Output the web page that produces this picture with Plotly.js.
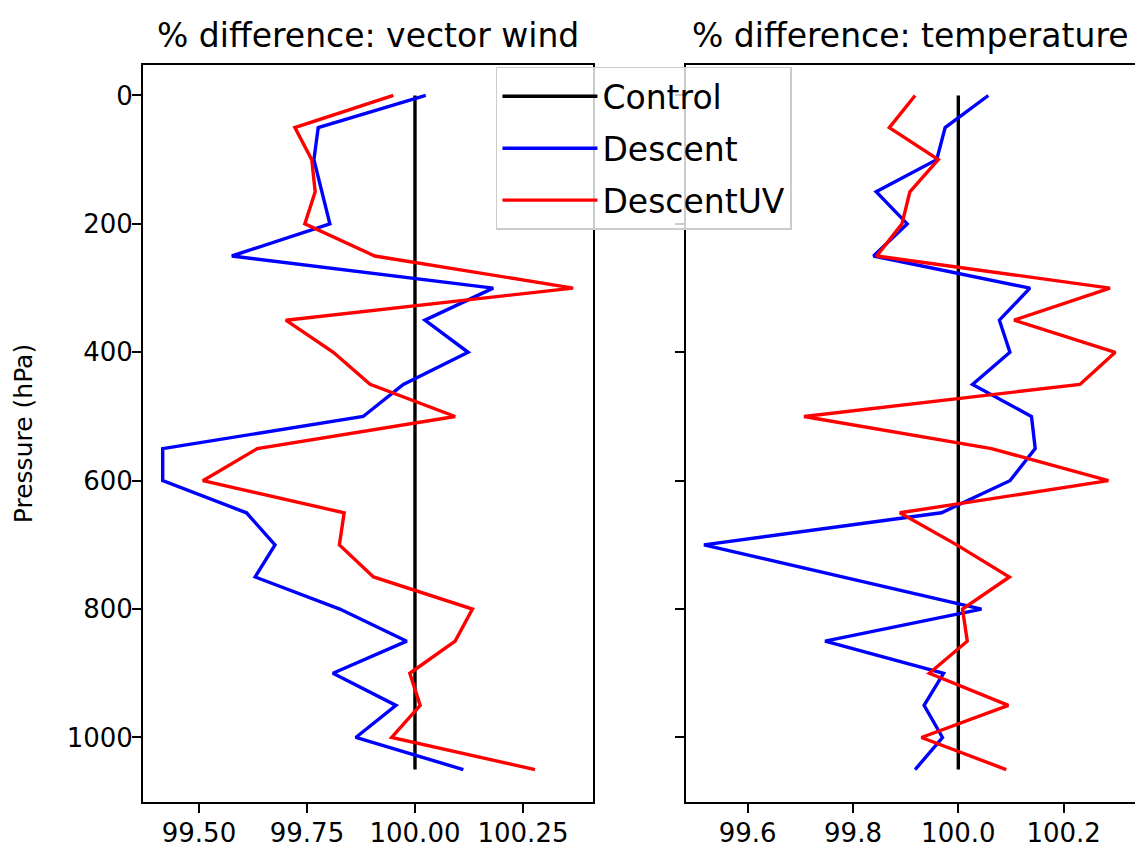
<!DOCTYPE html>
<html>
<head>
<meta charset="utf-8">
<script src="https://cdn.plot.ly/plotly-3.0.1.min.js"></script>
<style>html,body{margin:0;padding:0;background:#fff;}#chart{width:1135px;height:846px;}</style>
</head>
<body>
<div id="chart"></div>
<script>
// Pressure levels (hPa)
const pressure = [0, 50, 100, 150, 200, 250, 300, 350, 400, 450, 500, 550, 600, 650, 700, 750, 800, 850, 900, 950, 1000, 1050];

// % difference: vector wind
const windControl = pressure.map(() => 100.0);
const windDescent = [100.025, 99.776, 99.766, 99.784, 99.803, 99.576, 100.181, 100.023, 100.123, 99.973, 99.880,
                     99.416, 99.416, 99.610, 99.676, 99.630, 99.826, 99.981, 99.810, 99.956, 99.863, 100.112];
const windDescentUV = [99.950, 99.722, 99.761, 99.769, 99.745, 99.907, 100.366, 99.701, 99.811, 99.896, 100.093,
                       99.635, 99.509, 99.836, 99.825, 99.904, 100.133, 100.093, 99.988, 100.012, 99.946, 100.278];

// % difference: temperature
const tempControl = pressure.map(() => 100.0);
const tempDescent = [100.057, 99.975, 99.959, 99.844, 99.903, 99.839, 100.136, 100.078, 100.098, 100.027, 100.139,
                     100.146, 100.098, 99.968, 99.517, 99.780, 100.044, 99.747, 99.972, 99.935, 99.970, 99.918];
const tempDescentUV = [99.918, 99.869, 99.962, 99.908, 99.893, 99.845, 100.288, 100.106, 100.298, 100.231, 99.707,
                       100.063, 100.285, 99.889, 99.997, 100.097, 100.008, 100.017, 99.945, 100.095, 99.930, 100.091];

const seriesNames = ["Control", "Descent", "DescentUV"];
const seriesColors = ["#000000", "#0000ff", "#ff0000"];
const panelTitles = ["% difference: vector wind", "% difference: temperature"];
const windTicks = [99.5, 99.75, 100.0, 100.25];
const tempTicks = [99.6, 99.8, 100.0, 100.2];
const pressureTicks = [0, 200, 400, 600, 800, 1000];

const FONT = "DejaVu Sans, Liberation Sans, sans-serif";
const windSeries = [windControl, windDescent, windDescentUV];
const tempSeries = [tempControl, tempDescent, tempDescentUV];

const traces = [];
windSeries.forEach((vals, i) => {
  traces.push({
    x: vals, y: pressure, type: "scatter", mode: "lines",
    name: seriesNames[i], legendgroup: "g" + i, showlegend: true,
    line: {color: seriesColors[i], width: 3.4},
    xaxis: "x", yaxis: "y", hoverinfo: "skip"
  });
});
tempSeries.forEach((vals, i) => {
  traces.push({
    x: vals, y: pressure, type: "scatter", mode: "lines",
    name: seriesNames[i], legendgroup: "g" + i, showlegend: false,
    line: {color: seriesColors[i], width: 3.4},
    xaxis: "x2", yaxis: "y2", hoverinfo: "skip"
  });
});

const axisCommon = {
  showgrid: false, zeroline: false,
  showline: true, linecolor: "#000", linewidth: 2, mirror: true,
  ticks: "outside", ticklen: 9, tickwidth: 2, tickcolor: "#000",
  tickfont: {family: FONT, size: 26, color: "#000"}
};

const layout = {
  width: 1135, height: 846,
  margin: {l: 143, r: 0, t: 65, b: 44},
  paper_bgcolor: "#fff", plot_bgcolor: "#fff",
  font: {family: FONT, color: "#000"},
  xaxis: Object.assign({}, axisCommon, {
    domain: [0, 0.4539], range: [99.3704, 100.4127],
    tickvals: windTicks, ticktext: windTicks.map(v => v.toFixed(2)), anchor: "y",
    ticklabelstandoff: -2
  }),
  xaxis2: Object.assign({}, axisCommon, {
    domain: [0.5471, 1], range: [99.4824, 100.3355],
    tickvals: tempTicks, ticktext: tempTicks.map(v => v.toFixed(1)), anchor: "y2",
    ticklabelstandoff: -2
  }),
  yaxis: Object.assign({}, axisCommon, {
    domain: [0, 1], range: [1100.5, -47.5], anchor: "x",
    tickvals: pressureTicks, ticktext: pressureTicks.map(String),
    ticklabelstandoff: -6,
    title: {text: "Pressure (hPa)", font: {family: FONT, size: 25, color: "#000"}, standoff: 27}
  }),
  yaxis2: Object.assign({}, axisCommon, {
    domain: [0, 1], range: [1100.5, -47.5], anchor: "x2",
    tickvals: pressureTicks, showticklabels: false
  }),
  showlegend: true,
  legend: {
    x: 0.3558, y: 0.9975, xanchor: "left", yanchor: "top",
    bgcolor: "rgba(255,255,255,0.8)", bordercolor: "#cccccc", borderwidth: 1.5,
    font: {family: FONT, size: 33, color: "#000"},
    tracegroupgap: 6, itemwidth: 95
  },
  annotations: [
    {text: panelTitles[0], xref: "paper", yref: "paper", x: 0.4539 / 2, y: 1, xanchor: "center", yanchor: "bottom",
     yshift: 8, showarrow: false, font: {family: FONT, size: 33, color: "#000"}},
    {text: panelTitles[1], xref: "paper", yref: "paper", x: (0.5471 + 1) / 2, y: 1, xanchor: "center", yanchor: "bottom",
     yshift: 8, showarrow: false, font: {family: FONT, size: 33, color: "#000"}}
  ]
};

Plotly.newPlot("chart", traces, layout, {staticPlot: true, displayModeBar: false});
</script>
</body>
</html>
